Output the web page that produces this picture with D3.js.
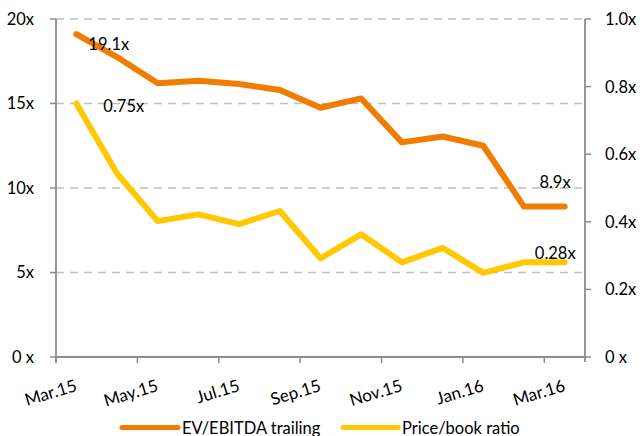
<!DOCTYPE html>
<html>
<head>
<meta charset="utf-8">
<script src="https://cdn.jsdelivr.net/npm/d3@7/dist/d3.min.js"></script>
<style>
  html, body { margin: 0; padding: 0; background: #fff; }
  svg { display: block; font-family: Lato, "Open Sans", sans-serif; }
</style>
</head>
<body>
<svg id="chart" width="643" height="436"></svg>
<script>
// ---- data ----
const months = ["Mar.15","Apr.15","May.15","Jun.15","Jul.15","Aug.15","Sep.15","Oct.15","Nov.15","Dec.15","Jan.16","Feb.16","Mar.16"];
const evEbitda = [19.1, 17.75, 16.2, 16.35, 16.15, 15.8, 14.75, 15.3, 12.7, 13.05, 12.5, 8.9, 8.9];
const priceBook = [0.75, 0.543, 0.402, 0.422, 0.393, 0.432, 0.292, 0.363, 0.28, 0.323, 0.249, 0.28, 0.28];
const leftTicks = [0, 5, 10, 15, 20];
const leftTickLabels = ["0 x", "5x", "10x", "15x", "20x"];
const rightTicks = [0, 0.2, 0.4, 0.6, 0.8, 1.0];
const rightTickLabels = ["0 x", "0.2x", "0.4x", "0.6x", "0.8x", "1.0x"];
const xLabelMonths = ["Mar.15","May.15","Jul.15","Sep.15","Nov.15","Jan.16","Mar.16"];
const seriesNames = ["EV/EBITDA trailing", "Price/book ratio"];

// ---- layout ----
const svg = d3.select("#chart");
const L = 56, R = 585, T = 19, B = 357;
const orange = "#F07C00", yellow = "#FFC800";
const axisColor = "#8C8C8C", gridColor = "#BFBFBF";
const fontSize = 16.5;

const x = d3.scaleBand().domain(months).range([L, R]).paddingInner(0).paddingOuter(0);
const xc = d => x(d) + x.bandwidth() / 2;
const yL = d3.scaleLinear().domain([0, 20]).range([B, T]);
const yR = d3.scaleLinear().domain([0, 1]).range([B, T]);

// gridlines
svg.append("g").selectAll("line").data(leftTicks.filter(d => d > 0)).join("line")
  .attr("x1", L).attr("x2", R)
  .attr("y1", d => yL(d)).attr("y2", d => yL(d))
  .attr("stroke", gridColor).attr("stroke-width", 1.5)
  .attr("stroke-dasharray", "8,6");

// left axis
const gl = svg.append("g");
gl.append("line").attr("x1", L).attr("x2", L).attr("y1", T).attr("y2", B + 5)
  .attr("stroke", axisColor).attr("stroke-width", 1.8);
gl.selectAll("line.t").data(leftTicks).join("line").attr("class", "t")
  .attr("x1", L - 6).attr("x2", L).attr("y1", d => yL(d)).attr("y2", d => yL(d))
  .attr("stroke", axisColor).attr("stroke-width", 1.5);
gl.selectAll("text").data(leftTicks).join("text")
  .attr("x", 34).attr("y", d => yL(d)).attr("dy", "0.36em")
  .attr("text-anchor", "end").attr("font-size", fontSize).attr("fill", "#000")
  .text((d, i) => leftTickLabels[i]);

// right axis
const gr = svg.append("g");
gr.append("line").attr("x1", R).attr("x2", R).attr("y1", T).attr("y2", B + 5)
  .attr("stroke", axisColor).attr("stroke-width", 1.8);
gr.selectAll("line.t").data(rightTicks).join("line").attr("class", "t")
  .attr("x1", R).attr("x2", R + 6).attr("y1", d => yR(d)).attr("y2", d => yR(d))
  .attr("stroke", axisColor).attr("stroke-width", 1.5);
gr.selectAll("text").data(rightTicks).join("text")
  .attr("x", 605).attr("y", d => yR(d)).attr("dy", "0.36em")
  .attr("text-anchor", "start").attr("font-size", fontSize).attr("fill", "#000")
  .text((d, i) => rightTickLabels[i]);

// bottom axis
const gb = svg.append("g");
gb.append("line").attr("x1", L).attr("x2", R).attr("y1", B).attr("y2", B)
  .attr("stroke", axisColor).attr("stroke-width", 1.8);
gb.selectAll("line.t").data(xLabelMonths).join("line").attr("class", "t")
  .attr("x1", d => x(d)).attr("x2", d => x(d)).attr("y1", B).attr("y2", B + 6)
  .attr("stroke", axisColor).attr("stroke-width", 1.5);
gb.selectAll("text").data(xLabelMonths).join("text")
  .attr("transform", d => `translate(${xc(d) + 1.5},${390.5}) rotate(-17)`)
  .attr("text-anchor", "end").attr("font-size", 17).attr("fill", "#000")
  .text(d => d);

// lines
const lineL = d3.line().x((d, i) => xc(months[i])).y(d => yL(d));
const lineR = d3.line().x((d, i) => xc(months[i])).y(d => yR(d));
svg.append("path").datum(priceBook).attr("d", lineR)
  .attr("fill", "none").attr("stroke", yellow).attr("stroke-width", 6)
  .attr("stroke-linecap", "round").attr("stroke-linejoin", "round");
svg.append("path").datum(evEbitda).attr("d", lineL)
  .attr("fill", "none").attr("stroke", orange).attr("stroke-width", 6)
  .attr("stroke-linecap", "round").attr("stroke-linejoin", "round");

// data labels
const n = months.length - 1;
const labels = [
  {t: evEbitda[0].toFixed(1) + "x", x: xc(months[0]) + 12, y: yL(evEbitda[0]) + 16, a: "start"},
  {t: priceBook[0].toFixed(2) + "x", x: xc(months[0]) + 27, y: yR(priceBook[0]) + 8, a: "start"},
  {t: evEbitda[n].toFixed(1) + "x", x: xc(months[n]) + 6, y: yL(evEbitda[n]) - 19, a: "end"},
  {t: priceBook[n].toFixed(2) + "x", x: xc(months[n]) + 11, y: yR(priceBook[n]) - 3, a: "end"}
];
svg.append("g").selectAll("text").data(labels).join("text")
  .attr("x", d => d.x).attr("y", d => d.y).attr("text-anchor", d => d.a)
  .attr("font-size", fontSize).attr("fill", "#000").text(d => d.t);

// legend
const lg = svg.append("g");
const legendItems = [
  {name: seriesNames[0], color: orange, x1: 122, x2: 178, tx: 182},
  {name: seriesNames[1], color: yellow, x1: 343, x2: 398, tx: 402}
];
lg.selectAll("line").data(legendItems).join("line")
  .attr("x1", d => d.x1).attr("x2", d => d.x2).attr("y1", 427.5).attr("y2", 427.5)
  .attr("stroke", d => d.color).attr("stroke-width", 5).attr("stroke-linecap", "round");
lg.selectAll("text").data(legendItems).join("text")
  .attr("x", d => d.tx).attr("y", 433.5).attr("font-size", fontSize).attr("fill", "#000")
  .text(d => d.name);
</script>
</body>
</html>
